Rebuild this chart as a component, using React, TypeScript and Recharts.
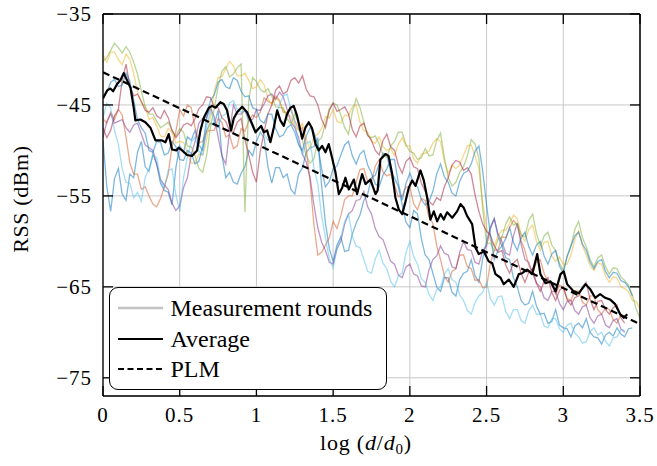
import { CartesianGrid, Line, LineChart, XAxis, YAxis } from "recharts";

// distance grid (log10 d/d0) of the measurement rounds
const DIST = [
  0, 0.025, 0.05, 0.075, 0.1, 0.125, 0.15, 0.175, 0.2, 0.225, 0.25, 0.275, 0.3, 0.325, 0.35, 0.375, 0.4, 0.425, 0.45, 0.475,
  0.5, 0.525, 0.55, 0.575, 0.6, 0.625, 0.65, 0.675, 0.7, 0.725, 0.75, 0.775, 0.8, 0.825, 0.85, 0.875, 0.9, 0.925, 0.95, 0.975,
  1.0, 1.025, 1.05, 1.075, 1.1, 1.125, 1.15, 1.175, 1.2, 1.225, 1.25, 1.275, 1.3, 1.325, 1.35, 1.375, 1.4, 1.425, 1.45, 1.475,
  1.5, 1.525, 1.55, 1.575, 1.6, 1.625, 1.65, 1.675, 1.7, 1.725, 1.75, 1.775, 1.8, 1.825, 1.85, 1.875, 1.9, 1.925, 1.95, 1.975,
  2.0, 2.025, 2.05, 2.075, 2.1, 2.125, 2.15, 2.175, 2.2, 2.225, 2.25, 2.275, 2.3, 2.325, 2.35, 2.375, 2.4, 2.425, 2.45, 2.475,
  2.5, 2.525, 2.55, 2.575, 2.6, 2.625, 2.65, 2.675, 2.7, 2.725, 2.75, 2.775, 2.8, 2.825, 2.85, 2.875, 2.9, 2.925, 2.95, 2.975,
  3.0, 3.025, 3.05, 3.075, 3.1, 3.125, 3.15, 3.175, 3.2, 3.225, 3.25, 3.275, 3.3, 3.325, 3.35, 3.375, 3.4, 3.425, 3.45, 3.475,
  3.5,
];

// measurement rounds, RSS in dBm
const ROUND_BLUE = [
  -48.9, -54.0, -56.7, -53.1, -52.0, -54.8, -55.5, -52.6, -53.0, -50.2, -49.0, -51.8, -52.3, -50.4, -51.5, -53.6, -54.4, -54.6, -56.0, -51.9,
  -49.5, -50.2, -48.5, -48.9, -47.8, -49.4, -50.0, -47.8, -47.0, -47.2, -45.6, -50.5, -53.0, -52.4, -53.5, -53.7, -52.5, -51.8, -50.0, -50.6,
  -49.0, -48.0, -48.6, -51.8, -53.6, -51.9, -51.9, -53.0, -52.6, -54.3, -54.8, -52.6, -51.9, -50.2, -49.7, -49.6, -48.6, -53.9, -58.0, -60.8,
  -62.2, -60.4, -59.5, -61.1, -61.0, -59.2, -58.0, -57.1, -55.5, -54.8, -53.0, -52.7, -51.5, -50.3, -50.5, -52.4, -53.0, -54.0, -56.0, -57.9,
  -58.5, -56.6, -57.0, -59.7, -61.5, -62.0, -63.5, -65.0, -65.5, -64.0, -64.0, -65.6, -66.0, -64.2, -63.5, -63.3, -62.0, -63.8, -64.5, -61.9,
  -60.0, -58.4, -57.5, -59.5, -60.5, -61.8, -62.0, -64.0, -65.0, -66.5, -67.0, -66.8, -65.5, -67.1, -68.0, -67.9, -69.0, -68.8, -67.5, -69.2,
  -69.5, -69.6, -70.5, -69.3, -69.0, -69.5, -68.5, -70.0, -70.5, -70.6, -71.3, -70.3, -70.0, -70.4, -69.5, -70.2, -70.5, -69.6, -69.5,
];
const ROUND_ORANGE = [
  -46.5, -47.0, -45.8, -46.6, -45.5, -46.1, -48.5, -51.4, -52.6, -52.6, -54.3, -54.0, -55.0, -55.9, -56.2, -55.3, -54.0, -52.6, -49.5, -47.9,
  -45.5, -46.2, -45.0, -45.3, -47.5, -49.2, -49.0, -47.9, -47.8, -47.8, -46.5, -46.9, -48.5, -48.3, -49.8, -49.5, -47.6, -47.9, -46.8, -46.1,
  -46.4, -45.8, -44.2, -44.6, -44.8, -44.0, -44.5, -45.8, -45.8, -45.4, -46.7, -47.7, -47.5, -49.8, -53.5, -58.2, -61.5, -61.2, -60.4, -59.6,
  -57.8, -58.6, -57.2, -55.4, -55.0, -55.0, -53.5, -52.1, -52.0, -53.4, -53.5, -51.7, -51.0, -52.4, -52.8, -52.6, -53.8, -55.1, -55.0, -54.0,
  -54.0, -55.9, -56.5, -55.3, -55.5, -57.4, -58.0, -60.5, -62.0, -63.8, -64.5, -63.3, -63.0, -61.5, -61.5, -62.8, -63.0, -64.3, -64.2, -65.1,
  -65.0, -62.4, -61.0, -60.9, -59.5, -59.6, -58.5, -57.7, -58.2, -59.9, -61.0, -62.6, -63.5, -62.3, -62.0, -63.5, -64.5, -64.6, -65.8, -64.8,
  -65.0, -66.3, -66.5, -65.4, -65.5, -66.7, -67.0, -66.0, -66.0, -67.5, -68.0, -67.3, -67.5, -68.6, -69.0, -68.1, -68.2,
];
const ROUND_YELLOW = [
  -39.5, -40.3, -39.2, -39.2, -40.0, -40.6, -39.4, -40.0, -41.5, -43.6, -44.8, -45.2, -46.6, -46.4, -47.3, -48.4, -48.5, -47.6, -48.0, -49.2,
  -49.0, -49.1, -50.2, -51.4, -51.4, -50.4, -50.5, -48.9, -46.2, -43.5, -42.0, -41.9, -41.0, -40.2, -40.7, -41.8, -41.8, -41.5, -42.3, -43.2,
  -43.0, -42.2, -42.8, -44.3, -45.0, -44.2, -44.6, -45.6, -46.0, -46.3, -47.4, -47.8, -47.0, -48.8, -49.8, -48.5, -48.2, -47.6, -46.3, -46.4,
  -45.5, -46.8, -47.0, -46.1, -46.2, -45.2, -45.0, -46.9, -47.8, -48.0, -49.0, -49.2, -48.5, -49.6, -50.0, -49.8, -50.6, -49.3, -48.6, -49.5,
  -49.5, -50.9, -51.4, -50.4, -50.3, -50.1, -49.2, -48.7, -49.0, -51.2, -52.5, -51.6, -52.0, -51.6, -50.5, -49.5, -49.4, -50.6, -52.0, -55.8,
  -58.5, -59.9, -60.5, -59.4, -58.8, -58.8, -58.0, -57.1, -57.5, -59.2, -60.0, -58.7, -58.2, -60.0, -61.0, -60.1, -60.0, -61.6, -62.2, -61.7,
  -62.5, -62.5, -61.5, -59.8, -58.8, -60.5, -61.5, -62.7, -63.2, -62.4, -62.5, -63.8, -64.5, -63.9, -64.0, -65.0, -65.2, -65.5, -66.5, -66.6,
  -67.4,
];
const ROUND_PURPLE = [
  -48.6, -46.8, -46.0, -47.0, -46.8, -46.6, -47.5, -48.0, -47.2, -47.0, -48.2, -49.4, -49.7, -50.0, -51.5, -53.2, -53.8, -54.3, -55.8, -56.6,
  -56.1, -54.1, -53.0, -50.5, -49.0, -47.0, -46.5, -46.4, -45.3, -46.3, -48.5, -50.6, -51.5, -47.9, -45.0, -46.0, -46.0, -45.6, -46.7, -46.6,
  -45.5, -45.6, -44.9, -44.0, -43.8, -44.4, -43.6, -44.1, -45.5, -46.9, -47.5, -48.6, -50.4, -51.3, -53.0, -56.0, -58.5, -60.1, -61.0, -62.3,
  -62.5, -60.8, -60.0, -58.1, -57.0, -56.6, -55.5, -55.4, -54.5, -56.2, -57.0, -58.6, -59.5, -59.8, -61.0, -62.2, -62.5, -63.7, -64.0, -62.8,
  -62.5, -63.6, -63.8, -64.9, -65.0, -63.1, -62.0, -61.6, -60.5, -61.3, -61.5, -62.8, -63.0, -61.2, -60.0, -60.9, -61.0, -62.3, -62.5, -61.0,
  -60.5, -58.6, -57.5, -59.2, -60.0, -61.3, -61.5, -59.4, -58.0, -60.3, -62.0, -62.3, -63.5, -64.6, -65.0, -66.2, -66.5, -65.5, -65.5, -66.8,
  -67.5, -66.6, -66.5, -67.6, -68.0, -67.2, -67.0, -68.4, -69.0, -68.2, -68.0, -69.2, -69.5, -68.7, -68.5, -69.6, -70.0,
];
const ROUND_GREEN = [
  -40.2, -39.8, -39.0, -38.2, -38.7, -39.3, -38.6, -39.2, -40.3, -41.6, -43.5, -45.2, -46.0, -46.0, -46.8, -47.5, -47.2, -46.9, -47.8, -48.4,
  -47.6, -48.0, -49.5, -49.6, -50.6, -52.0, -52.4, -50.6, -47.5, -45.4, -43.0, -41.3, -40.8, -41.9, -41.6, -40.9, -40.5, -56.8, -44.5, -42.0,
  -42.4, -43.3, -43.6, -43.2, -44.0, -45.2, -45.3, -45.3, -46.5, -47.1, -46.0, -47.0, -48.9, -50.6, -51.4, -50.9, -49.0, -48.6, -47.0, -45.4,
  -44.8, -45.0, -46.1, -47.5, -48.2, -45.8, -44.3, -45.3, -46.9, -48.4, -48.6, -48.4, -49.3, -50.5, -50.8, -49.5, -49.0, -48.0, -48.0, -49.4,
  -50.1, -50.3, -51.0, -50.8, -49.8, -50.6, -50.5, -48.9, -48.1, -50.8, -53.0, -53.9, -53.5, -52.4, -51.8, -50.6, -48.8, -49.3, -50.9, -56.5,
  -60.2, -60.2, -61.0, -59.8, -59.5, -58.1, -57.3, -58.2, -58.0, -59.3, -59.5, -57.7, -57.0, -59.1, -60.5, -59.4, -59.0, -60.4, -61.0, -62.4,
  -63.2, -61.6, -60.5, -58.7, -57.8, -59.6, -60.6, -62.0, -62.8, -61.8, -61.5, -62.8, -63.6, -62.9, -63.0, -63.9, -64.3, -64.8, -65.9, -67.4,
  -68.5,
];
const ROUND_CYAN = [
  -46.4, -44.8, -45.3, -47.8, -49.3, -52.0, -53.5, -53.6, -55.2, -54.6, -55.6, -53.0, -52.0, -50.6, -50.8, -53.3, -54.1, -52.2, -52.0, -54.9,
  -56.7, -53.0, -50.8, -49.1, -48.5, -50.1, -50.5, -47.4, -45.6, -46.9, -47.5, -46.2, -46.0, -44.8, -44.5, -45.5, -45.8, -45.6, -46.5, -47.5,
  -47.8, -47.4, -48.2, -48.9, -48.6, -46.3, -45.0, -44.0, -43.8, -45.6, -47.0, -49.2, -50.5, -49.2, -49.0, -51.9, -53.7, -57.2, -59.6, -61.9,
  -62.9, -60.8, -59.6, -57.8, -57.0, -59.4, -60.5, -60.7, -62.0, -63.3, -63.5, -61.9, -61.0, -62.4, -63.0, -64.4, -65.0, -63.8, -63.5, -61.2,
  -60.0, -61.7, -62.5, -64.1, -64.5, -65.8, -66.5, -65.3, -65.0, -63.6, -63.0, -64.2, -64.5, -65.9, -66.5, -67.6, -68.0, -66.7, -66.0, -65.6,
  -64.5, -66.3, -67.0, -66.1, -66.0, -67.7, -68.5, -67.5, -67.5, -68.7, -69.0, -67.6, -67.0, -68.0, -68.0, -69.3, -69.5, -68.5, -68.5, -69.6,
  -70.0, -69.2, -69.0, -70.1, -70.5, -71.2, -71.0, -69.9, -69.5, -70.3, -70.0, -71.0, -71.5, -70.6, -70.5, -69.7, -69.8,
];
const ROUND_RED = [
  -47.5, -48.6, -47.8, -46.2, -45.5, -42.3, -40.5, -42.9, -44.0, -43.8, -44.6, -45.6, -45.8, -45.3, -46.2, -46.5, -45.6, -46.4, -47.8, -48.6,
  -48.0, -47.2, -47.0, -47.3, -46.5, -45.4, -45.0, -44.1, -44.2, -45.2, -45.3, -46.4, -46.8, -47.9, -48.0, -46.9, -46.5, -48.8, -50.5, -52.4,
  -53.5, -50.1, -48.0, -46.0, -45.0, -43.4, -42.9, -43.8, -43.5, -42.3, -42.0, -42.6, -41.8, -43.3, -44.0, -44.1, -45.0, -46.6, -47.5, -45.6,
  -44.8, -45.7, -45.5, -45.2, -46.0, -47.7, -48.5, -47.3, -47.0, -48.3, -48.9, -50.0, -50.5, -48.9, -48.2, -49.6, -50.0, -51.6, -52.5, -51.2,
  -50.8, -51.8, -52.0, -53.6, -54.5, -55.6, -56.0, -55.2, -55.5, -54.0, -53.0, -51.6, -51.1, -51.3, -52.2, -51.9, -52.6, -54.9, -56.7, -58.1,
  -58.9, -59.3, -60.5, -61.2, -61.0, -62.6, -63.5, -62.4, -62.0, -63.5, -64.5, -63.4, -63.0, -64.6, -65.5, -64.4, -64.0, -65.6, -66.5, -65.4,
  -65.0, -66.4, -67.0, -66.2, -66.0, -65.0, -64.5, -66.4, -67.5, -66.6, -66.5, -67.5, -68.0, -67.3, -67.0, -68.4, -69.0,
];
const ROUND_BLUE_2 = [
  -44.0, -43.6, -42.5, -42.2, -43.0, -42.8, -41.5, -42.4, -44.5, -46.6, -47.5, -48.1, -50.0, -50.2, -49.0, -49.1, -50.5, -50.3, -49.0, -49.6,
  -51.0, -51.1, -50.0, -50.3, -51.5, -51.2, -49.5, -46.5, -44.5, -43.9, -42.5, -42.2, -43.0, -43.2, -42.0, -42.3, -43.5, -44.1, -44.0, -45.3,
  -45.5, -46.7, -47.0, -46.0, -46.0, -47.6, -48.5, -48.3, -47.5, -47.2, -48.0, -49.4, -50.0, -48.4, -47.5, -48.0, -49.5, -52.0, -54.0, -53.4,
  -52.0, -51.7, -50.5, -49.4, -49.0, -50.6, -51.5, -50.4, -50.0, -51.6, -52.5, -53.7, -54.0, -52.7, -52.0, -51.0, -51.0, -53.6, -55.5, -53.6,
  -52.5, -53.6, -54.0, -55.4, -56.0, -55.6, -54.5, -52.6, -51.5, -52.9, -53.5, -54.7, -55.0, -53.4, -52.5, -52.3, -51.5, -50.1, -49.5, -52.3,
  -56.0, -59.3, -62.0, -61.0, -60.5, -59.7, -58.5, -60.1, -61.0, -59.6, -59.0, -60.6, -61.5, -60.4, -60.0, -61.6, -62.5, -61.4, -61.0, -62.7,
  -63.5, -61.7, -60.5, -59.4, -59.0, -60.3, -61.0, -62.3, -63.0, -62.2, -62.0, -63.3, -64.0, -63.4, -63.5, -64.3, -64.5, -65.0, -66.0,
];

// average over the rounds
const AVG_DIST = [
  0, 0.027, 0.048, 0.066, 0.092, 0.113, 0.135, 0.157, 0.179, 0.2,
  0.211, 0.244, 0.276, 0.309, 0.342, 0.385, 0.407, 0.428, 0.45, 0.478,
  0.493, 0.515, 0.548, 0.58, 0.613, 0.635, 0.657, 0.69, 0.711, 0.733,
  0.765, 0.787, 0.809, 0.835, 0.852, 0.874, 0.907, 0.939, 0.972, 0.994,
  1.015, 1.031, 1.048, 1.07, 1.091, 1.113, 1.135, 1.156, 1.178, 1.2,
  1.222, 1.243, 1.265, 1.298, 1.319, 1.341, 1.363, 1.385, 1.406, 1.428,
  1.45, 1.471, 1.493, 1.515, 1.537, 1.559, 1.58, 1.602, 1.635, 1.656,
  1.689, 1.711, 1.743, 1.776, 1.79, 1.808, 1.841, 1.861, 1.885, 1.906,
  1.928, 1.95, 1.972, 1.993, 2.015, 2.037, 2.069, 2.091, 2.113, 2.134,
  2.156, 2.178, 2.2, 2.221, 2.243, 2.276, 2.308, 2.33, 2.351, 2.373,
  2.406, 2.428, 2.449, 2.482, 2.514, 2.537, 2.558, 2.591, 2.612, 2.645,
  2.677, 2.71, 2.732, 2.765, 2.797, 2.83, 2.851, 2.884, 2.917, 2.95,
  2.982, 3.003, 3.025, 3.068, 3.101, 3.145, 3.177, 3.208, 3.24, 3.273,
  3.306, 3.338, 3.371, 3.394, 3.417,
];
const AVG_RSS = [
  -44.3, -43.4, -43.2, -43.5, -42.7, -42.3, -41.5, -42.3, -43.1, -45.3,
  -46.7, -46.6, -46.9, -47.5, -48.9, -48.9, -49.1, -48.2, -49.9, -50.0,
  -49.7, -50.0, -50.5, -50.6, -50.0, -47.8, -46.4, -45.3, -45.1, -45.3,
  -44.7, -44.9, -45.6, -47.8, -46.5, -45.8, -45.2, -45.8, -47.1, -48.0,
  -47.6, -47.3, -48.0, -47.8, -49.1, -47.5, -45.6, -46.7, -47.3, -46.0,
  -45.3, -45.1, -46.2, -48.7, -47.5, -46.9, -47.6, -49.3, -50.0, -49.5,
  -50.2, -49.3, -50.8, -52.4, -54.8, -54.1, -53.0, -54.3, -53.2, -54.8,
  -52.6, -53.7, -53.2, -54.8, -54.4, -51.0, -50.4, -50.6, -52.6, -55.2,
  -56.5, -57.0, -55.6, -54.1, -53.3, -53.9, -52.2, -53.3, -55.2, -57.6,
  -56.7, -57.8, -57.0, -57.6, -56.8, -57.4, -56.7, -55.9, -56.3, -57.2,
  -58.1, -60.7, -61.4, -61.1, -62.2, -62.4, -63.6, -64.0, -64.7, -64.2,
  -65.0, -63.6, -63.5, -63.1, -63.6, -61.4, -63.6, -64.6, -64.4, -65.5,
  -63.6, -63.3, -64.7, -65.5, -65.7, -64.7, -65.3, -66.2, -65.8, -66.2,
  -66.4, -66.9, -68.0, -68.4, -68.0,
];

// path loss model fit, end points
const PLM_DIST = [0, 3.5];
const PLM_RSS = [-41.4, -69.1];

const X_TICKS = [0, 0.5, 1, 1.5, 2, 2.5, 3, 3.5];
const Y_TICKS = [-75, -65, -55, -45, -35];

const ROUNDS = [
  { key: "blue", color: "#0072BD", values: ROUND_BLUE },
  { key: "orange", color: "#D95319", values: ROUND_ORANGE },
  { key: "yellow", color: "#EDB120", values: ROUND_YELLOW },
  { key: "purple", color: "#7E2F8E", values: ROUND_PURPLE },
  { key: "green", color: "#77AC30", values: ROUND_GREEN },
  { key: "cyan", color: "#4DBEEE", values: ROUND_CYAN },
  { key: "red", color: "#A2142F", values: ROUND_RED },
  { key: "blue2", color: "#0072BD", values: ROUND_BLUE_2 },
];

const LEGEND_ITEMS = [
  { label: "Measurement rounds", stroke: "#c2c2c2", width: 2.5, dash: undefined },
  { label: "Average", stroke: "#000", width: 2, dash: undefined },
  { label: "PLM", stroke: "#000", width: 2, dash: "6 3.5" },
];

const SERIF = '"Liberation Serif", "Times New Roman", serif';
const TICK_STYLE = { fill: "#000", fontSize: 21, fontFamily: SERIF, letterSpacing: 1 };

function toPoints(xs: number[], ys: number[]) {
  return ys.map((rss, i) => ({ x: xs[i], rss }));
}

function formatRss(v: number) {
  return v < 0 ? `\u2212${-v}` : `${v}`;
}

export default function App() {
  return (
    <div style={{ position: "relative", width: 657, height: 466, background: "#fff" }}>
      <style>{"body{margin:0}"}</style>
      <LineChart width={657} height={466} margin={{ top: 13, right: 16, bottom: 30, left: 43 }}>
        <CartesianGrid stroke="#c8c8c8" strokeWidth={1} />
        <XAxis
          type="number"
          dataKey="x"
          domain={[0, 3.5]}
          ticks={X_TICKS}
          interval={0}
          allowDataOverflow
          height={40}
          tickSize={-10}
          tickMargin={21}
          tick={TICK_STYLE}
          axisLine={{ stroke: "#000", strokeWidth: 1.3 }}
          tickLine={{ stroke: "#000", strokeWidth: 1.3 }}
        />
        <XAxis
          xAxisId="top"
          orientation="top"
          type="number"
          dataKey="x"
          domain={[0, 3.5]}
          ticks={X_TICKS}
          interval={0}
          allowDataOverflow
          height={1}
          tickSize={-10}
          tickFormatter={() => ""}
          axisLine={{ stroke: "#000", strokeWidth: 1.3 }}
          tickLine={{ stroke: "#000", strokeWidth: 1.3 }}
        />
        <YAxis
          type="number"
          domain={[-77, -35]}
          ticks={Y_TICKS}
          interval={0}
          allowDataOverflow
          width={60}
          tickSize={-10}
          tickMargin={21}
          tick={TICK_STYLE}
          tickFormatter={formatRss}
          axisLine={{ stroke: "#000", strokeWidth: 1.3 }}
          tickLine={{ stroke: "#000", strokeWidth: 1.3 }}
        />
        <YAxis
          yAxisId="right"
          orientation="right"
          type="number"
          domain={[-77, -35]}
          ticks={Y_TICKS}
          interval={0}
          allowDataOverflow
          width={1}
          tickSize={-10}
          tickFormatter={() => ""}
          axisLine={{ stroke: "#000", strokeWidth: 1.5 }}
          tickLine={{ stroke: "#000", strokeWidth: 1.3 }}
        />
        {ROUNDS.map((round) => (
          <Line
            key={round.key}
            data={toPoints(DIST, round.values)}
            dataKey="rss"
            type="linear"
            stroke={round.color}
            strokeOpacity={0.5}
            strokeWidth={1.3}
            dot={false}
            activeDot={false}
            isAnimationActive={false}
          />
        ))}
        <Line
          data={toPoints(AVG_DIST, AVG_RSS)}
          dataKey="rss"
          type="linear"
          stroke="#000"
          strokeWidth={2.2}
          strokeLinejoin="round"
          dot={false}
          activeDot={false}
          isAnimationActive={false}
        />
        <Line
          data={toPoints(PLM_DIST, PLM_RSS)}
          dataKey="rss"
          type="linear"
          stroke="#000"
          strokeWidth={2.2}
          strokeDasharray="7 4"
          dot={false}
          activeDot={false}
          isAnimationActive={false}
        />
      </LineChart>

      <svg
        width={657}
        height={466}
        style={{ position: "absolute", left: 0, top: 0, pointerEvents: "none" }}
      >
        <text x={366} y={450} textAnchor="middle" fontSize={22} letterSpacing={0.8} fontFamily={SERIF}>
          log (<tspan fontStyle="italic">d</tspan>/<tspan fontStyle="italic">d</tspan>
          <tspan fontSize={15} dy={4}>0</tspan>
          <tspan dy={-4}>)</tspan>
        </text>
        <text
          transform="translate(27.5,199) rotate(-90)"
          textAnchor="middle"
          fontSize={22}
          letterSpacing={0.6}
          fontFamily={SERIF}
        >
          RSS (dBm)
        </text>
      </svg>

      <div
        style={{
          position: "absolute",
          left: 109,
          top: 287,
          width: 278,
          height: 103,
          boxSizing: "border-box",
          border: "1.5px solid #000",
          borderRadius: 9,
          background: "#fff",
          padding: "5px 0 0 7.5px",
          fontFamily: SERIF,
          fontSize: 24,
          color: "#000",
        }}
      >
        {LEGEND_ITEMS.map((item) => (
          <div key={item.label} style={{ display: "flex", alignItems: "center", height: 30.5 }}>
            <svg width={45} height={10} style={{ flex: "none" }}>
              <line
                x1={0}
                x2={45}
                y1={5}
                y2={5}
                stroke={item.stroke}
                strokeWidth={item.width}
                strokeDasharray={item.dash}
              />
            </svg>
            <span style={{ marginLeft: 8, lineHeight: 1, whiteSpace: "nowrap" }}>{item.label}</span>
          </div>
        ))}
      </div>
    </div>
  );
}
